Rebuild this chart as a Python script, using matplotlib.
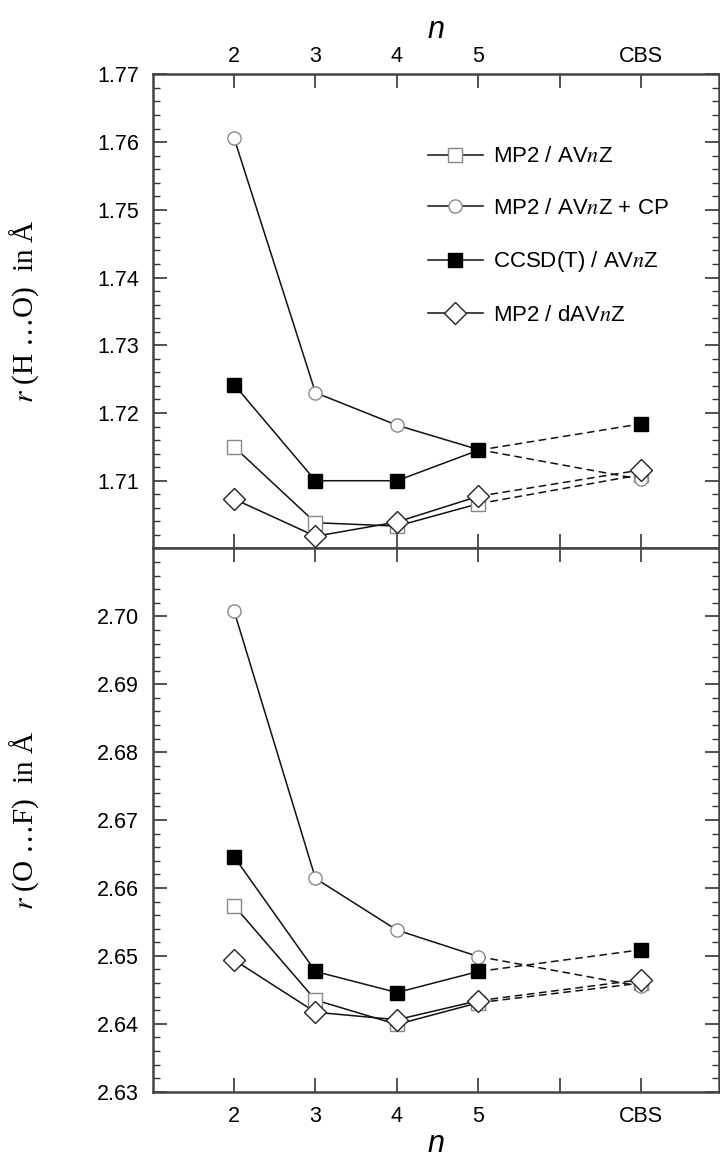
import numpy as np
import matplotlib.pyplot as plt
from matplotlib.lines import Line2D
from matplotlib.ticker import MultipleLocator

plt.rcParams['font.family'] = ['Liberation Sans', 'DejaVu Sans']
plt.rcParams['mathtext.fontset'] = 'stix'

# x positions: n = 2..5, then CBS
n_vals = [2, 3, 4, 5]
cbs_x = 7
xtick_pos = [2, 3, 4, 5, 6, 7]
xtick_lab = ['2', '3', '4', '5', '', 'CBS']

series_names = ['MP2 / AV$n$Z', 'MP2 / AV$n$Z + CP', 'CCSD(T) / AV$n$Z', 'MP2 / dAV$n$Z']

# r(H...O), n = 2,3,4,5 and CBS
ho_mp2 = [1.7150, 1.7038, 1.7033, 1.7066]
ho_mp2_cbs = 1.7109
ho_mp2cp = [1.7606, 1.7230, 1.7182, 1.7146]
ho_mp2cp_cbs = 1.7102
ho_ccsdt = [1.7242, 1.7100, 1.7100, 1.7145]
ho_ccsdt_cbs = 1.7184
ho_dav = [1.7073, 1.7018, 1.7039, 1.7077]
ho_dav_cbs = 1.7116

# r(O...F)
of_mp2 = [2.6574, 2.6435, 2.6399, 2.6431]
of_mp2_cbs = 2.6460
of_mp2cp = [2.7008, 2.6614, 2.6538, 2.6499]
of_mp2cp_cbs = 2.6455
of_ccsdt = [2.6646, 2.6477, 2.6446, 2.6477]
of_ccsdt_cbs = 2.6509
of_dav = [2.6494, 2.6417, 2.6406, 2.6434]
of_dav_cbs = 2.6465

styles = [
    dict(marker='s', ms=9.5, mfc='white', mec='#888888', mew=1.0),
    dict(marker='o', ms=9.5, mfc='white', mec='#888888', mew=1.0),
    dict(marker='s', ms=9.5, mfc='black', mec='black', mew=1.0),
    dict(marker='D', ms=11.5, mfc='white', mec='#222222', mew=1.0),
]

fig = plt.figure(figsize=(7.2, 11.6), dpi=100)
ax1 = fig.add_axes([0.212, 0.5272, 0.786, 0.4087])
ax2 = fig.add_axes([0.212, 0.0589, 0.786, 0.4683])

panels = [
    (ax1, [ho_mp2, ho_mp2cp, ho_ccsdt, ho_dav],
     [ho_mp2_cbs, ho_mp2cp_cbs, ho_ccsdt_cbs, ho_dav_cbs]),
    (ax2, [of_mp2, of_mp2cp, of_ccsdt, of_dav],
     [of_mp2_cbs, of_mp2cp_cbs, of_ccsdt_cbs, of_dav_cbs]),
]

for ax, data, cbs in panels:
    for k in range(4):
        ax.plot(n_vals, data[k], color='#111111', lw=1.1, zorder=2)
        ax.plot([n_vals[-1], cbs_x], [data[k][-1], cbs[k]], color='#111111',
                lw=1.1, ls=(0, (5, 3)), zorder=2)
        ax.plot(n_vals + [cbs_x], data[k] + [cbs[k]], ls='none', zorder=3 + k,
                **styles[k])
    ax.set_xlim(1, 7.95)
    ax.set_xticks(xtick_pos)
    ax.tick_params(axis='both', which='both', direction='in', top=True, right=True,
                   labelsize=15.5, color='#333333')
    ax.tick_params(which='major', length=10, width=1.2)
    ax.tick_params(which='minor', length=5, width=1.0)
    ax.tick_params(axis='y', pad=10)
    ax.yaxis.set_minor_locator(MultipleLocator(0.002))
    ax.yaxis.set_label_coords(-0.198, 0.5)
    for sp in ax.spines.values():
        sp.set_linewidth(1.8)
        sp.set_color('#444444')

ax1.set_ylim(1.70, 1.77)
ax1.set_yticks([1.71, 1.72, 1.73, 1.74, 1.75, 1.76, 1.77])
ax1.set_xticklabels(xtick_lab)
ax1.tick_params(axis='x', labeltop=True, labelbottom=False, pad=5)
ax1.xaxis.set_label_position('top')
ax1.set_xlabel('n', style='italic', fontsize=22, labelpad=6)
ax1.set_ylabel('$r$ (H …O)  in Å', family='Liberation Serif', fontsize=21)

ax2.set_ylim(2.63, 2.71)
ax2.set_yticks([2.63, 2.64, 2.65, 2.66, 2.67, 2.68, 2.69, 2.70])
ax2.set_xticklabels(xtick_lab)
ax2.tick_params(axis='x', pad=10)
ax2.set_xlabel('n', style='italic', fontsize=22, labelpad=2)
ax2.set_ylabel('$r$ (O …F)  in Å', family='Liberation Serif', fontsize=21)

handles = [Line2D([], [], color='#111111', lw=1.1, **st) for st in styles]
ax1.legend(handles, series_names, loc='upper left', bbox_to_anchor=(0.486, 0.848),
           frameon=False, fontsize=16, handlelength=2.5, handletextpad=0.45,
           labelspacing=1.37, borderpad=0, borderaxespad=0)

plt.savefig('out.png', dpi=100)
